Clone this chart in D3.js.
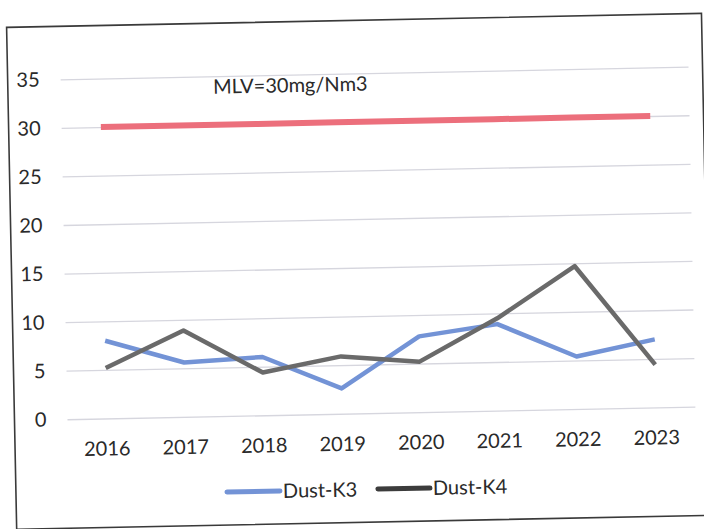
<!DOCTYPE html>
<html>
<head>
<meta charset="utf-8">
<script src="https://cdn.jsdelivr.net/npm/d3@7"></script>
<style>
  html, body { margin: 0; padding: 0; background: #ffffff; }
  svg { display: block; }
  text { font-family: Lato, "Noto Sans", sans-serif; fill: #2a2a2a; }
</style>
</head>
<body>
<svg id="chart" width="704" height="529"></svg>
<script>
// Annual dust emission (mg/Nm3) for kilns K3 and K4, with the maximum limit value
const years = ["2016", "2017", "2018", "2019", "2020", "2021", "2022", "2023"];
const dustK3 = [8.0, 5.6, 6.0, 2.6, 7.8, 8.9, 5.4, 7.0];
const dustK4 = [5.2, 8.9, 4.4, 5.9, 5.2, 9.5, 14.7, 4.4];
const mlvLimit = 30;
const yTicks = [0, 5, 10, 15, 20, 25, 30, 35];
const seriesNames = ["Dust-K3", "Dust-K4"];
const limitLabel = "MLV=30mg/Nm3";

const W = 704, H = 529;
const plot = { left: 64, right: 692, top: 73, bottom: 413 };

const svg = d3.select("#chart");
svg.append("rect").attr("width", W).attr("height", H).attr("fill", "#ffffff");

// The whole sheet sits slightly tilted on the page
const g = svg.append("g").attr("transform", "rotate(-1.15, 376, 243)");

// Chart frame
g.append("rect")
  .attr("x", 11).attr("y", 20)
  .attr("width", 695).attr("height", 502)
  .attr("fill", "none")
  .attr("stroke", "#3a3a3a")
  .attr("stroke-width", 1.6);

const x = d3.scaleBand().domain(years).range([plot.left, plot.right]);
const cx = d => x(d) + x.bandwidth() / 2;
const y = d3.scaleLinear().domain([0, 35]).range([plot.bottom, plot.top]);

// Value axis with horizontal gridlines
const yAxis = g.append("g")
  .attr("transform", `translate(${plot.left},0)`)
  .call(d3.axisLeft(y).tickValues(yTicks).tickSize(-(plot.right - plot.left)).tickPadding(21));
yAxis.select(".domain").remove();
yAxis.selectAll(".tick line").attr("stroke", "#d6d6de").attr("stroke-width", 1.3);
yAxis.selectAll(".tick text").attr("font-size", 20).attr("fill", "#2a2a2a");

// Category axis labels
const xAxis = g.append("g")
  .attr("transform", `translate(0,${plot.bottom})`)
  .call(d3.axisBottom(x).tickSize(0).tickPadding(23));
xAxis.select(".domain").remove();
xAxis.selectAll(".tick text").attr("font-size", 20).attr("fill", "#2a2a2a");

// Limit line
const limitLine = d3.line().x(d => cx(d)).y(() => y(mlvLimit));
g.append("path")
  .datum(years)
  .attr("d", limitLine)
  .attr("fill", "none")
  .attr("stroke", "#ec6f7c")
  .attr("stroke-width", 6);

g.append("text")
  .attr("x", cx(years[0]) + 113)
  .attr("y", y(33.2))
  .attr("font-size", 20)
  .text(limitLabel);

// Dust series
const line = d3.line().x((d, i) => cx(years[i])).y(d => y(d));
const series = [
  { name: seriesNames[0], values: dustK3, color: "#7393d6", key: "#7393d6" },
  { name: seriesNames[1], values: dustK4, color: "#6a6a6a", key: "#3c3c3c" }
];
series.forEach(s => {
  g.append("path")
    .datum(s.values)
    .attr("d", line)
    .attr("fill", "none")
    .attr("stroke", s.color)
    .attr("stroke-width", 4.5)
    .attr("stroke-linejoin", "round");
});

// Legend
const legendItems = [
  { x1: 222, x2: 275, tx: 278, y: 489 },
  { x1: 373, x2: 425, tx: 428, y: 489 }
];
series.forEach((s, i) => {
  const it = legendItems[i];
  g.append("line")
    .attr("x1", it.x1).attr("x2", it.x2)
    .attr("y1", it.y).attr("y2", it.y)
    .attr("stroke", s.key)
    .attr("stroke-width", 5)
    .attr("stroke-linecap", "round");
  g.append("text")
    .attr("x", it.tx).attr("y", it.y)
    .attr("dy", "0.35em")
    .attr("font-size", 20)
    .text(s.name);
});
</script>
</body>
</html>
